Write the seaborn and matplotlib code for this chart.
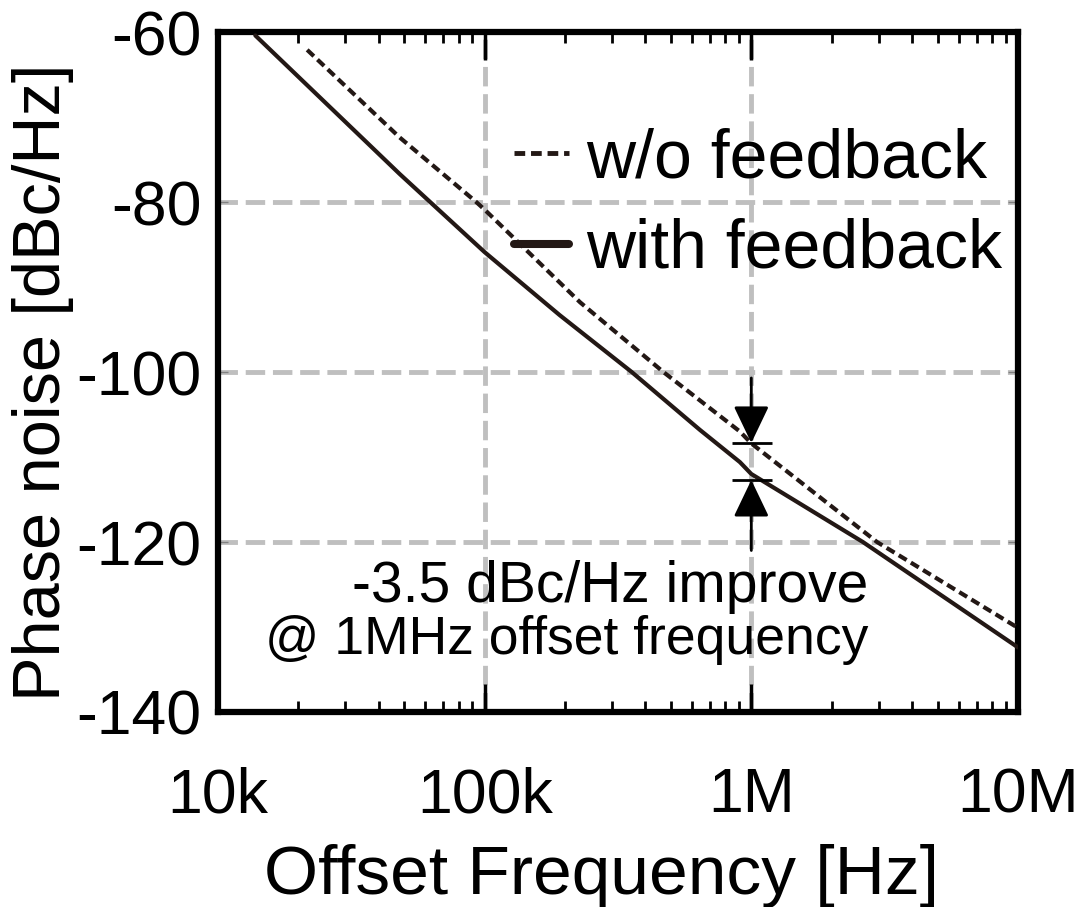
import numpy as np
import pandas as pd
import seaborn as sns
import matplotlib.pyplot as plt

# phase noise (Hz, dBc/Hz)
wo_freq = [21.6e3, 48e3, 93e3, 100e3, 228e3, 468e3, 906e3, 1e6, 2.96e6, 10e6]
wo_pn = [-62.1, -72.4, -80.0, -80.9, -91.8, -100.0, -107.0, -108.4, -120.0, -130.1]

with_freq = [13.8e3, 48e3, 65e3, 100e3, 191e3, 356e3, 641e3, 906e3, 1e6, 2.62e6, 10e6]
with_pn = [-60.4, -76.7, -80.5, -85.9, -93.3, -100.0, -106.8, -110.6, -112.0, -120.0, -132.4]

x_ticks = [1e4, 1e5, 1e6, 1e7]
x_labels = ["10k", "100k", "1M", "10M"]
y_ticks = [-140, -120, -100, -80, -60]

# arrow marks at 1 MHz
mark_top = -108.35
mark_bot = -112.7

line_color = "#231815"

sns.set_theme(style="white", rc={"text.color": "black", "axes.labelcolor": "black",
                                 "xtick.color": "black", "ytick.color": "black",
                                 "axes.unicode_minus": False})
plt.rcParams['font.family'] = ['Liberation Sans', 'DejaVu Sans']

fig = plt.figure(figsize=(10.77, 9.07), dpi=100)
ax = fig.add_axes([0.2024, 0.2150, 0.7428, 0.7497])

df_wo = pd.DataFrame({"freq": wo_freq, "pn": wo_pn})
df_with = pd.DataFrame({"freq": with_freq, "pn": with_pn})

sns.lineplot(data=df_wo, x="freq", y="pn", ax=ax, color=line_color, lw=3.0,
             linestyle=(0, (2.2, 1.2)), label="w/o feedback", zorder=3)
sns.lineplot(data=df_with, x="freq", y="pn", ax=ax, color=line_color, lw=3.0,
             label="with feedback", zorder=3)

ax.set_xscale("log")
ax.set_xlim(1e4, 1e7)
ax.set_ylim(-140, -60)
ax.set_xticks(x_ticks, labels=x_labels)
ax.set_yticks(y_ticks)

# grid
ax.grid(True, which="major", color="#bfbfbf", lw=3.5, linestyle=(0, (4, 1.6)), zorder=1)
ax.set_axisbelow(True)

for s in ax.spines.values():
    s.set_linewidth(4.5)
    s.set_color("black")

ax.tick_params(axis="x", which="major", direction="in", length=20, width=2.5,
               top=True, bottom=True, labelsize=45, pad=39, color="black",
               labelcolor="black")
ax.tick_params(axis="x", which="minor", direction="in", length=8, width=2,
               top=True, bottom=True, color="black")
ax.tick_params(axis="y", which="major", direction="in", length=7, width=1,
               left=True, right=True, labelsize=45, pad=12, color="#808080",
               labelcolor="black")

ax.set_xlabel("Offset Frequency [Hz]", fontsize=50)
ax.set_ylabel("Phase noise [dBc/Hz]", fontsize=48)
ax.xaxis.set_label_coords(0.48, -0.194)
ax.yaxis.set_label_coords(-0.18, 0.485)

# legend
leg = ax.legend(loc="upper right", bbox_to_anchor=(0.98, 0.86), frameon=False,
                fontsize=49, handlelength=0.8, handletextpad=0.25,
                labelspacing=0.39, borderpad=0, borderaxespad=0)
for t in leg.get_texts():
    t.set_color("black")
leg_lines = leg.get_lines()
leg_lines[0].set_linewidth(3.5)
leg_lines[1].set_linewidth(5.8)

# improvement marks
ax.hlines([mark_top, mark_bot], 0.845e6, 1.195e6, color="black", lw=2, zorder=4)
arrow = dict(arrowstyle="-|>,head_length=23,head_width=11", mutation_scale=1,
             color="black", lw=2, shrinkA=0, shrinkB=0)
ax.annotate("", xy=(1e6, mark_top), xytext=(1e6, -100.7), arrowprops=arrow, zorder=4)
ax.annotate("", xy=(1e6, mark_bot), xytext=(1e6, -121.0), arrowprops=arrow, zorder=4)

ax.text(0.8125, 0.1618, "-3.5 dBc/Hz improve", transform=ax.transAxes,
        ha="right", va="baseline", fontsize=41, color="black")
ax.text(0.8125, 0.0853, "@ 1MHz offset frequency", transform=ax.transAxes,
        ha="right", va="baseline", fontsize=38.5, color="black")

fig.savefig("out.png", dpi=100)
